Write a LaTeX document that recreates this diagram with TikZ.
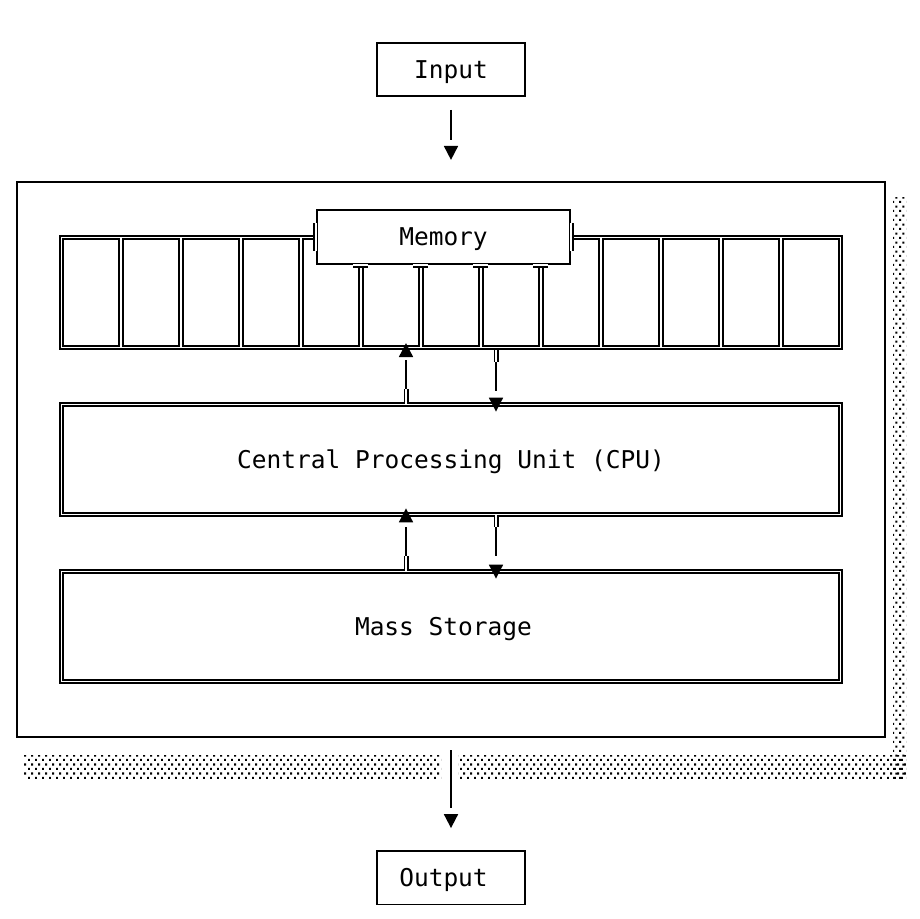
\documentclass[tikz,border=0pt]{standalone}
\usepackage{fontspec}
\newfontfamily\monofont{DejaVu Sans Mono}
\usetikzlibrary{arrows.meta,patterns.meta,positioning}

% staggered dots for the drop shadow
\tikzdeclarepattern{
  name=shadowdots,
  type=uncolored,
  bounding box={(0pt,0pt) and (7.2pt,8.8pt)},
  tile size={(7.2pt,8.8pt)},
  code={
    \pgfpathrectangle{\pgfpoint{0pt}{0pt}}{\pgfpoint{2.2pt}{2.2pt}}
    \pgfpathrectangle{\pgfpoint{3.6pt}{4.4pt}}{\pgfpoint{2.2pt}{2.2pt}}
    \pgfusepath{fill}
  }
}

\begin{document}
\begin{tikzpicture}[
    x=1pt,y=-1pt,
    box/.style={draw,rectangle,inner sep=0pt,line width=1.8pt},
    dblbox/.style={draw,double,line width=1.8pt,double distance=1.2pt,rectangle,inner sep=0pt},
    lbl/.style={font=\monofont\fontsize{24.5pt}{29pt}\selectfont,text height=17.9pt,text depth=0pt,inner sep=0pt},
    flow/.style={-{Triangle[length=14pt,width=14pt]},line width=1.8pt,dash pattern=on #1 off 80pt},
    flow/.default=29pt,
    stub/.style={double,line width=1.6pt,double distance=1.8pt},
    cell/.style={line width=1.8pt}
  ]
  \useasboundingbox (0,0) rectangle (919,919);

  % shadow
  \fill[pattern=shadowdots] (893,197) rectangle (906,778);
  \fill[pattern=shadowdots] (24,755) rectangle (441,778);
  \fill[pattern=shadowdots] (458,755) rectangle (906,778);

  % computer
  \node[box,fill=white,minimum width=868pt,minimum height=555.4pt] (computer) at (451,459.5) {};
  \node[box,minimum width=148.4pt,minimum height=53.4pt,above=84pt of computer] (input) {};
  \node[box,minimum width=148.4pt,minimum height=53.4pt,below=112pt of computer] (output) {};

  % memory cells
  \node[box,minimum width=782.4pt,minimum height=113.4pt] (cells) at (451,292.5) {};
  \foreach \i in {0,...,12}
    \draw[cell] ({63+60*\i},239) rectangle ({119+60*\i},346);
  \node[box,fill=white,minimum width=253.4pt,minimum height=54.4pt] (memory) at (443.5,237) {};

  \node[dblbox,minimum width=779pt,minimum height=110pt] (cpu) at (451,459.5) {};
  \node[dblbox,minimum width=779pt,minimum height=110pt] (storage) at (451,626.5) {};

  % labels
  \node[lbl] at (input) {Input};
  \node[lbl] at ([xshift=-7.5pt]output.center) {Output};
  \node[lbl] at (memory) {Memory};
  \node[lbl] at (cpu) {Central Processing Unit (CPU)};
  \node[lbl] at ([xshift=-7.5pt]storage.center) {Mass Storage};

  % memory joints
  \draw[stub] ([yshift=-14pt]memory.west) -- ([yshift=14pt]memory.west);
  \draw[stub] ([yshift=-14pt]memory.east) -- ([yshift=14pt]memory.east);
  \foreach \i in {5,...,8}
    \draw[stub] ({60*\i+53},265) -- ({60*\i+68},265);

  % arrows
  \draw[flow=30pt,shorten <=13pt,shorten >=21pt] (input.south) -- (computer.north);
  \draw[flow=58pt,shorten <=12pt,shorten >=22pt] (computer.south) -- (output.north);

  \draw[stub] ([xshift=-45pt]cpu.north) -- ++(0,-15);
  \draw[flow,shorten <=15pt,shorten >=-7pt] ([xshift=-45pt]cpu.north) -- ([xshift=-45pt]cells.south);
  \draw[stub] ([xshift=45pt]cells.south) -- ++(0,12);
  \draw[flow,shorten <=12pt,shorten >=-8pt] ([xshift=45pt]cells.south) -- ([xshift=45pt]cpu.north);

  \draw[stub] ([xshift=-45pt]storage.north) -- ++(0,-15);
  \draw[flow,shorten <=15pt,shorten >=-7pt] ([xshift=-45pt]storage.north) -- ([xshift=-45pt]cpu.south);
  \draw[stub] ([xshift=45pt]cpu.south) -- ++(0,12);
  \draw[flow,shorten <=12pt,shorten >=-8pt] ([xshift=45pt]cpu.south) -- ([xshift=45pt]storage.north);
\end{tikzpicture}
\end{document}
